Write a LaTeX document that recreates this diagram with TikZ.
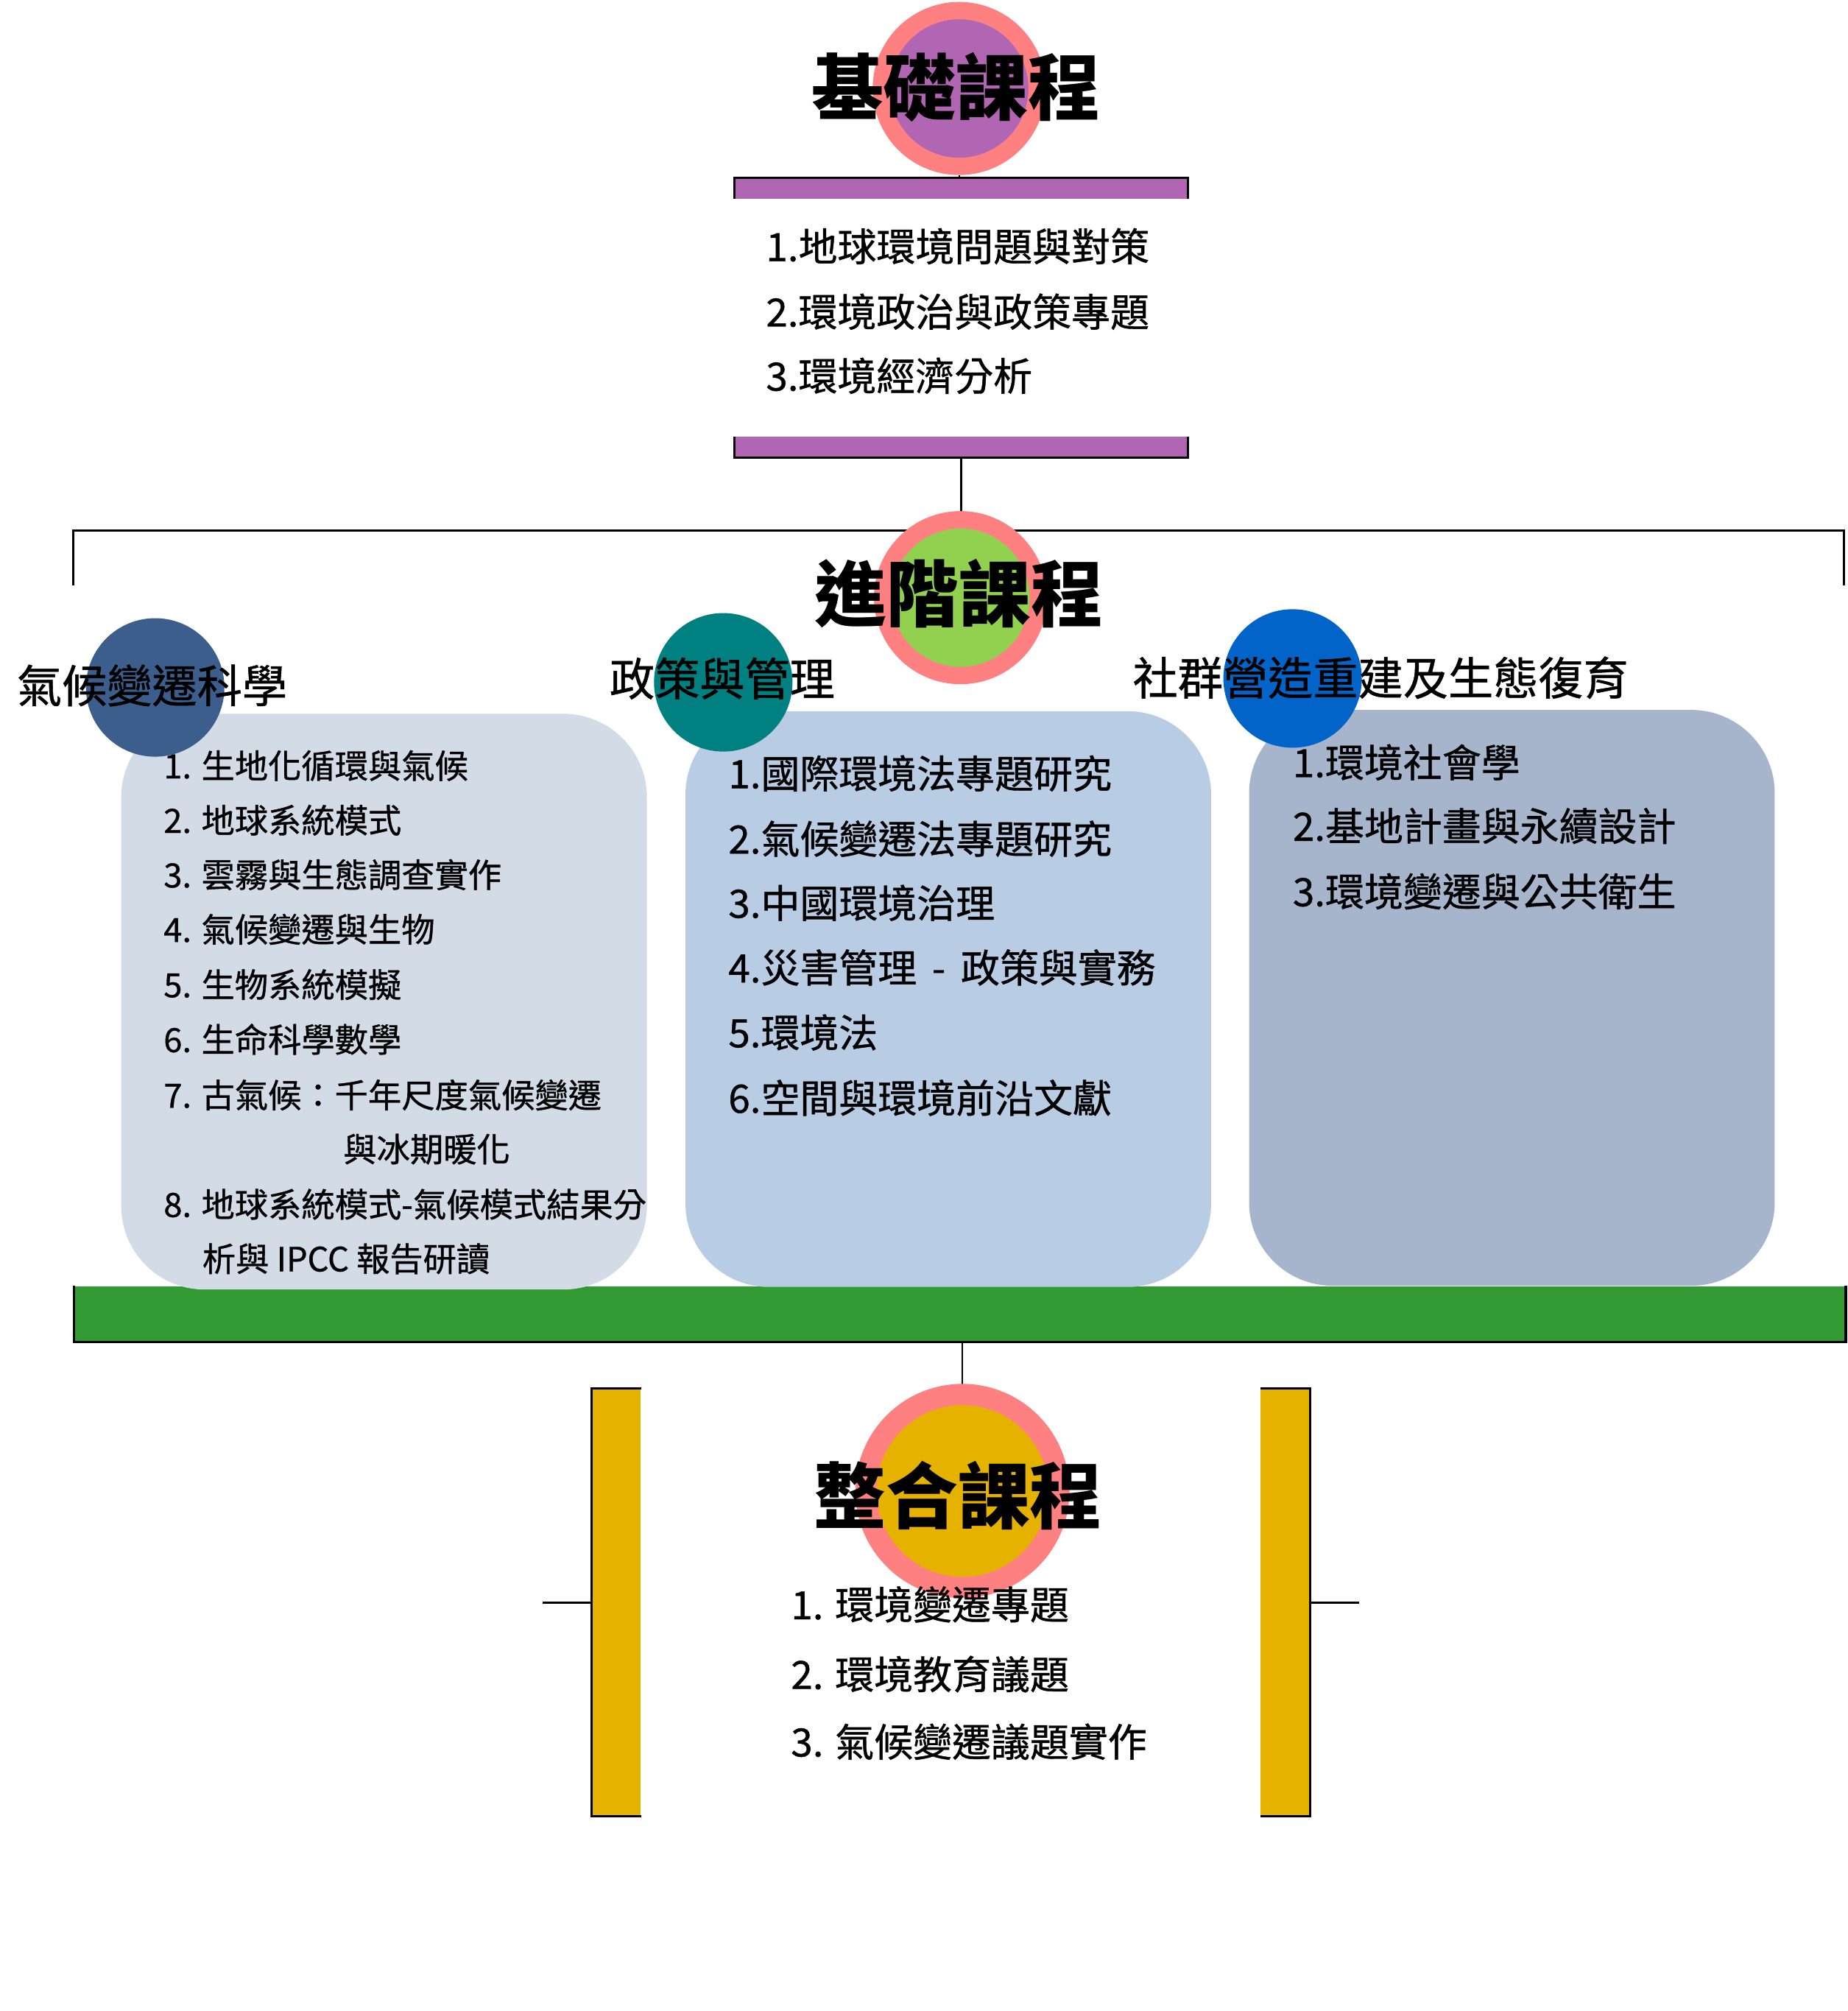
\documentclass[tikz,border=0pt]{standalone}
\usepackage{fontspec}
\newfontfamily\cjk{Noto Sans CJK TC}
\newfontfamily\cjkmid{Noto Sans CJK TC}[FakeBold=0.8]
\definecolor{ringpink}{RGB}{255,128,128}
\definecolor{basepurple}{RGB}{176,102,178}
\definecolor{advgreen}{RGB}{146,208,80}
\definecolor{intgold}{RGB}{230,178,0}
\definecolor{climblue}{RGB}{59,94,140}
\definecolor{polteal}{RGB}{0,128,128}
\definecolor{commblue}{RGB}{2,100,200}
\definecolor{climbox}{RGB}{211,220,230}
\definecolor{polbox}{RGB}{184,204,228}
\definecolor{commbox}{RGB}{166,181,204}
\definecolor{barGreen}{RGB}{51,153,51}

\begin{document}
\begin{tikzpicture}[x=0.02cm, y=-0.02cm,
			ring/.style={circle, draw=ringpink, line width=0.27cm, minimum size=2.43cm, inner sep=0},
			bigring/.style={circle, draw=ringpink, line width=0.33cm, minimum size=3.01cm, inner sep=0},
			dot/.style={circle, minimum size=2.16cm, inner sep=0},
			titletext/.style={font=\cjk\bfseries\fontsize{32}{36}\selectfont, inner sep=0},
			headtext/.style={font=\cjkmid\fontsize{20}{24}\selectfont, anchor=west, inner sep=0},
			listtext/.style={font=\cjkmid\fontsize{17.3}{20}\selectfont, anchor=west, inner sep=0},
			smalltext/.style={font=\cjkmid\fontsize{14.8}{18}\selectfont, anchor=west, inner sep=0},
			panel/.style={rectangle, rounded corners=1.3cm, minimum width=8.2cm, minimum height=8.98cm, inner sep=0},
			band/.style={rectangle, inner sep=0},
			outline/.style={line width=1pt, black},
			link/.style={line width=0.7pt, black}
			]
			\useasboundingbox (0,0) rectangle (1441,1568);
			% 基礎課程
			\node[band, fill=basepurple, minimum width=7.06cm, minimum height=0.31cm] (bar1) at (749.5,147) {};
			\node[band, fill=basepurple, minimum width=7.06cm, minimum height=0.31cm] (bar2) at (749.5,348.5) {};
			\draw[outline] (bar1.south west) -- (bar1.north west) -- (bar1.north east) -- (bar1.south east);
			\draw[outline] (bar2.north west) -- (bar2.south west) -- (bar2.south east) -- (bar2.north east);
			\node[ring, fill=basepurple] (c1) at (748,69) {};
			\draw[link] (c1.south) -- (c1.south |- bar1.north);
			\node[titletext] (t1) at (745.5,68) {基礎課程};
			\node[listtext] (b1) at (597,192) {1.地球環境問題與對策};
			\node[listtext] (b2) at (597,243) {2.環境政治與政策專題};
			\node[listtext] (b3) at (597,293) {3.環境經濟分析};
			% 進階課程
			\coordinate (brL) at (57,456.6);
			\coordinate (brR) at (1438,456.6);
			\coordinate (brT) at (749,413.5);
			\draw[outline] (brL) |- (brT) -| (brR);
			\draw[link] (bar2.south) -- (bar2.south |- brT);
			\node[band, fill=barGreen, minimum width=27.62cm, minimum height=0.86cm] (green) at (748.5,1024.5) {};
			\draw[line width=1.2pt] (green.north west) -- (green.south west) -- (green.south east) -- (green.north east);
			\node[panel, fill=climbox] (p1) at (299.5,781) {};
			\node[panel, fill=polbox] (p2) at (739.5,779) {};
			\node[panel, fill=commbox] (p3) at (1179,778) {};
			\node[ring, fill=advgreen] (c2) at (749,466) {};
			\node[titletext] (t2) at (748,463) {進階課程};
			\node[dot, fill=climblue] (d1) at (121,536) {};
			\node[dot, fill=polteal] (d2) at (564,532) {};
			\node[dot, fill=commblue] (d3) at (1008,529) {};
			\node[headtext] (h1) at (12.8,534.5) {氣候變遷科學};
			\node[headtext] (h2) at (475,529) {政策與管理};
			\node[headtext] (h3) at (883,528.4) {社群營造重建及生態復育};
			\node[smalltext] (l1) at (127.3,597) {1. 生地化循環與氣候};
			\node[smalltext] (l2) at (127.3,639.5) {2. 地球系統模式};
			\node[smalltext] (l3) at (127.3,682) {3. 雲霧與生態調查實作};
			\node[smalltext] (l4) at (127.3,724.6) {4. 氣候變遷與生物};
			\node[smalltext] (l5) at (127.3,767.7) {5. 生物系統模擬};
			\node[smalltext] (l6) at (127.3,810.3) {6. 生命科學數學};
			\node[smalltext] (l7) at (127.3,853.8) {7. 古氣候：千年尺度氣候變遷};
			\node[smalltext] (l7b) at (267.4,896) {與冰期暖化};
			\node[smalltext] (l8) at (127.3,939) {8. 地球系統模式-氣候模式結果分};
			\node[smalltext] (l8b) at (157.5,981.5) {析與 IPCC 報告研讀};
			\node[listtext] (m1) at (567.7,603) {1.國際環境法專題研究};
			\node[listtext] (m2) at (567.7,654) {2.氣候變遷法專題研究};
			\node[listtext] (m3) at (567.7,704) {3.中國環境治理};
			\node[listtext] (m4) at (567.7,754.4) {4.災害管理 \,-\, 政策與實務};
			\node[listtext] (m5) at (567.7,805) {5.環境法};
			\node[listtext] (m6) at (567.7,856) {6.空間與環境前沿文獻};
			\node[listtext] (r1) at (1007.8,594.4) {1.環境社會學};
			\node[listtext] (r2) at (1007.8,644) {2.基地計畫與永續設計};
			\node[listtext] (r3) at (1007.8,695) {3.環境變遷與公共衛生};
			% 整合課程
			\coordinate (c3pos) at (750.5,1162.5);
			\draw[link] (c3pos |- green.south) -- (c3pos);
			\node[band, fill=intgold, minimum width=0.764cm, minimum height=6.66cm] (yl) at (480.5,1249.5) {};
			\node[band, fill=intgold, minimum width=0.764cm, minimum height=6.66cm] (yr) at (1002.3,1249.5) {};
			\draw[outline] (yl.north east) -- (yl.north west) -- (yl.south west) -- (yl.south east);
			\draw[outline] (yr.north west) -- (yr.north east) -- (yr.south east) -- (yr.south west);
			\coordinate (tickL) at (423,1249.5);
			\coordinate (tickR) at (1059.7,1249.5);
			\draw[outline] (tickL) -- (yl.west);
			\draw[outline] (yr.east) -- (tickR);
			\node[bigring, fill=intgold] (c3) at (c3pos) {};
			\node[titletext] (t3) at (747,1166) {整合課程};
			\node[listtext] (g1) at (616.5,1251) {1. 環境變遷專題};
			\node[listtext] (g2) at (616.5,1305.3) {2. 環境教育議題};
			\node[listtext] (g3) at (616.5,1358) {3. 氣候變遷議題實作};
		\end{tikzpicture}
\end{document}
